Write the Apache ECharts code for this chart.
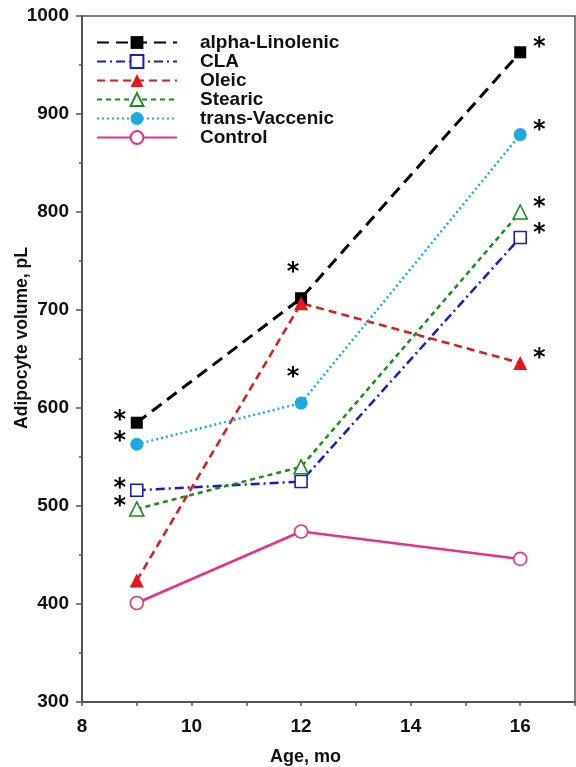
<!DOCTYPE html>
<html>
<head>
<meta charset="utf-8">
<script src="https://cdn.jsdelivr.net/npm/echarts@6/dist/echarts.min.js"></script>
<style>
  html, body { margin: 0; padding: 0; background: #fff; }
  #chart { width: 576px; height: 767px; }
</style>
</head>
<body>
<div id="chart"></div>
<script>
// ages in months
const ages = [9, 12, 16];

// adipocyte volume, pL
const alphaLinolenic = [585, 712, 963];
const cla = [516, 525, 774];
const oleic = [424, 707, 646];
const stearic = [497, 540, 800];
const transVaccenic = [563, 605, 879];
const control = [401, 474, 446];

// asterisk (significance) flags per point
const starsAlpha = [1, 1, 1];
const starsCla = [1, 0, 1];
const starsOleic = [0, 0, 1];
const starsStearic = [1, 0, 1];
const starsTrans = [1, 1, 1];
const starsControl = [0, 0, 0];

const xTickLabels = ["8", "10", "12", "14", "16"];

const font = "Liberation Sans, Arial, sans-serif";

// where the star sits relative to the marker, by age index
const starOffset = [[-17, -2], [-8, -25], [19, -4]];

function points(vals, stars) {
  return vals.map((v, i) => {
    const item = { value: [ages[i], v] };
    if (stars[i]) {
      item.label = {
        show: true,
        formatter: "*",
        position: "inside",
        offset: starOffset[i],
        color: "#000",
        fontFamily: "DejaVu Sans",
        fontWeight: "bold",
        fontSize: 24,
      };
    }
    return item;
  });
}

function line(name, vals, stars, color, dash, width, symbol, size, open) {
  return {
    name,
    type: "line",
    data: points(vals, stars),
    symbol,
    symbolSize: size,
    lineStyle: { color, width, type: dash },
    itemStyle: open
      ? { color: "#fff", borderColor: color, borderWidth: 1.6 }
      : { color, borderColor: color, borderWidth: 0 },
    label: { show: false },
    emphasis: { disabled: true },
  };
}

const chart = echarts.init(document.getElementById("chart"), null, { renderer: "canvas" });

const series = [
  line("alpha-Linolenic", alphaLinolenic, starsAlpha, "#000000", [12, 7], 3, "rect", 12, false),
  line("CLA", cla, starsCla, "#1b1bc8", [9, 4, 2, 4], 2.5, "rect", 12, true),
  line("Oleic", oleic, starsOleic, "#e3171c", [8, 5], 2.5, "triangle", 14, false),
  line("Stearic", stearic, starsStearic, "#1d8c1d", [5, 4], 2.5, "triangle", 14, true),
  line("trans-Vaccenic", transVaccenic, starsTrans, "#1ea8e2", [2, 3], 2.5, "circle", 13, false),
  line("Control", control, starsControl, "#e6338a", "solid", 2.5, "circle", 13, true),
];

chart.setOption({
  animation: false,
  backgroundColor: "#fff",
  grid: {
    left: 82, right: 1, top: 16, bottom: 65,
    outerBoundsMode: "none",
    show: true, borderColor: "#555", borderWidth: 1.5, backgroundColor: "#fff",
  },
  legend: {
    data: series.map((s) => s.name),
    orient: "vertical",
    left: 96,
    top: 33,
    padding: 0,
    itemWidth: 80,
    itemHeight: 16,
    itemGap: 0,
    selectedMode: false,
    textStyle: { fontFamily: font, fontWeight: "bold", fontSize: 19, color: "#111", padding: [0, 0, 0, 18] },
  },
  xAxis: {
    type: "value",
    min: 8,
    max: 17,
    interval: 1,
    name: "Age, mo",
    nameLocation: "middle",
    nameGap: 46,
    nameTextStyle: { fontFamily: font, fontWeight: "bold", fontSize: 18, color: "#111", padding: [0, 46, 0, 0] },
    axisLine: { onZero: false, lineStyle: { color: "#555", width: 2 } },
    axisTick: { length: 4, lineStyle: { color: "#555", width: 1.5 } },
    axisLabel: {
      margin: 15,
      fontFamily: font, fontWeight: "bold", fontSize: 19, color: "#111",
      formatter: (v) => (xTickLabels.includes(String(v)) ? String(v) : ""),
    },
    splitLine: { show: false },
  },
  yAxis: {
    type: "value",
    min: 300,
    max: 1000,
    interval: 100,
    name: "Adipocyte volume, pL",
    nameLocation: "middle",
    nameGap: 51,
    nameMoveOverlap: false,
    nameTextStyle: { fontFamily: font, fontWeight: "bold", fontSize: 17.5, color: "#111", padding: [0, 0, 0, 42] },
    axisLine: { onZero: false, lineStyle: { color: "#555", width: 2 } },
    axisTick: { length: 6, lineStyle: { color: "#555", width: 1.5 } },
    minorTick: { show: true, splitNumber: 2, length: 3, lineStyle: { color: "#555", width: 1.5 } },
    axisLabel: {
      margin: 13, fontFamily: font, fontWeight: "bold", fontSize: 19, color: "#111",
      formatter: (v) => String(v),
    },
    splitLine: { show: false },
  },
  series,
});
</script>
</body>
</html>
